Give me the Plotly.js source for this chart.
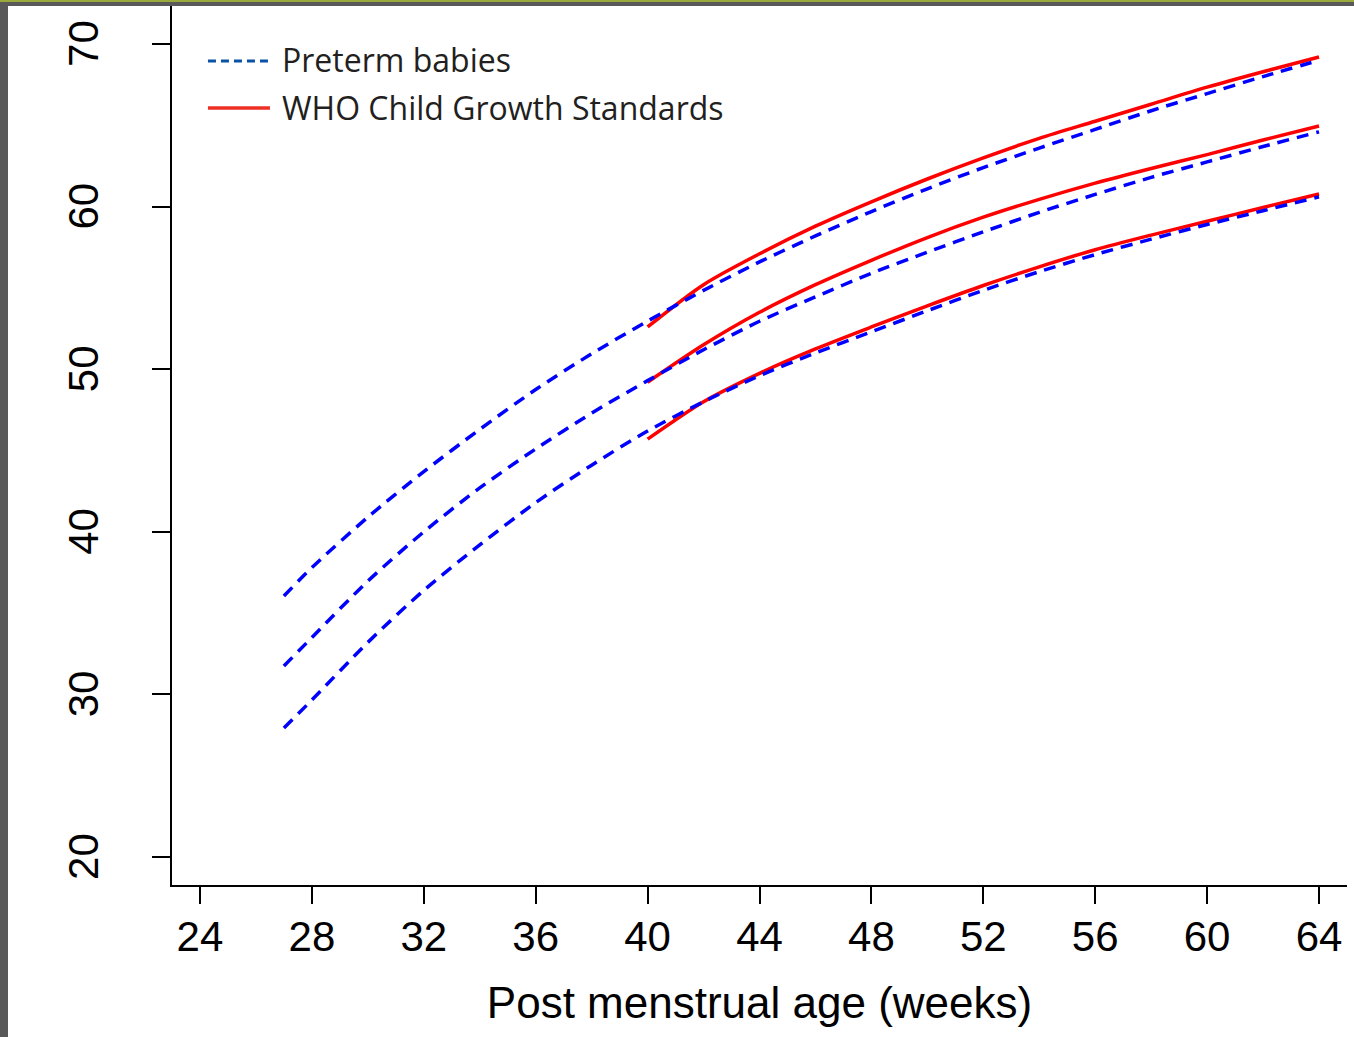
<!DOCTYPE html>
<html>
<head>
<meta charset="utf-8">
<script src="https://cdn.plot.ly/plotly-3.0.1.min.js"></script>
<style>
  html, body { margin: 0; padding: 0; background: #ffffff; }
  #wrap { position: relative; width: 1354px; height: 1037px; overflow: hidden; }
  #chart { position: absolute; left: 0; top: 0; width: 1354px; height: 1037px; }
  .bar-left { position: absolute; left: 0; top: 0; width: 8px; height: 1037px; background: #595959; }
  .bar-top-gray { position: absolute; left: 0; top: 0; width: 1354px; height: 6px; background: #595959; }
  .bar-top-olive { position: absolute; left: 0; top: 0; width: 1354px; height: 2px; background: #9aaa3a; }
</style>
</head>
<body>
<div id="wrap">
  <div id="chart"></div>
  <div class="bar-left"></div>
  <div class="bar-top-gray"></div>
  <div class="bar-top-olive"></div>
</div>
<script>
// Post menstrual age (weeks)
const pretermWeeks = [27, 28, 30, 32, 34, 36, 38, 40, 42, 44, 46, 48, 50, 52, 54, 56, 58, 60, 62, 64];
const pretermUpper = [36.05, 37.8, 40.9, 43.7, 46.3, 48.75, 50.95, 52.96, 54.85, 56.6, 58.2, 59.7, 61.1, 62.4, 63.6, 64.75, 65.9, 66.95, 68.0, 69.0];
const pretermMiddle = [31.75, 33.5, 36.97, 40.0, 42.7, 45.1, 47.3, 49.3, 51.2, 52.95, 54.45, 55.9, 57.2, 58.45, 59.65, 60.75, 61.8, 62.75, 63.7, 64.6];
const pretermLower = [27.93, 29.66, 33.2, 36.4, 39.2, 41.8, 44.1, 46.2, 48.0, 49.6, 51.0, 52.3, 53.6, 54.85, 56.0, 57.05, 58.0, 58.9, 59.75, 60.6];

const whoWeeks = [40, 42, 44, 46, 48, 50, 52, 54, 56, 58, 60, 62, 64];
const whoUpper = [52.6, 55.2, 57.1, 58.8, 60.3, 61.7, 63.0, 64.2, 65.25, 66.3, 67.35, 68.3, 69.2];
const whoMiddle = [49.2, 51.5, 53.5, 55.2, 56.7, 58.1, 59.35, 60.45, 61.45, 62.35, 63.2, 64.1, 64.96];
const whoLower = [45.7, 48.0, 49.75, 51.25, 52.6, 53.9, 55.15, 56.3, 57.35, 58.25, 59.1, 59.95, 60.78];

const xTicks = [24, 28, 32, 36, 40, 44, 48, 52, 56, 60, 64];
const yTicks = [20, 30, 40, 50, 60, 70];

const legendLabels = ["Preterm babies", "WHO Child Growth Standards"];
const xTitle = "Post menstrual age (weeks)";

const redLine = { color: "#ff0000", width: 3.5, shape: "spline", smoothing: 0.8 };
const blueLine = { color: "#0000ff", width: 3.5, dash: "12px,8px", shape: "spline", smoothing: 0.8 };

const traces = [];
[whoUpper, whoMiddle, whoLower].forEach(ys => {
  traces.push({ x: whoWeeks, y: ys, type: "scatter", mode: "lines", line: redLine, showlegend: false, hoverinfo: "skip" });
});
[pretermUpper, pretermMiddle, pretermLower].forEach(ys => {
  traces.push({ x: pretermWeeks, y: ys, type: "scatter", mode: "lines", line: blueLine, showlegend: false, hoverinfo: "skip" });
});

const axisFont = { family: "Liberation Sans, Arial, sans-serif", size: 42, color: "#000000" };
const legendFont = { family: "Open Sans, Noto Sans, sans-serif", size: 32, color: "#231f20" };

const layout = {
  width: 1354,
  height: 1037,
  margin: { l: 172, r: 7, t: 6, b: 152 },
  paper_bgcolor: "#ffffff",
  plot_bgcolor: "#ffffff",
  showlegend: false,
  xaxis: {
    range: [23, 65],
    tickvals: xTicks,
    ticktext: xTicks.map(String),
    ticks: "outside",
    ticklen: 17,
    tickwidth: 2,
    tickcolor: "#000000",
    showline: true,
    linecolor: "#000000",
    linewidth: 2,
    showgrid: false,
    zeroline: false,
    tickfont: axisFont,
    ticklabelstandoff: -3,
    title: { text: xTitle, font: { family: "Liberation Sans, Arial, sans-serif", size: 44, color: "#000000" }, standoff: 28 }
  },
  yaxis: {
    range: [18.28, 72.34],
    tickvals: yTicks,
    ticktext: yTicks.map(v => String(v) + "\u00a0"),
    ticks: "outside",
    ticklen: 18,
    tickwidth: 2,
    tickcolor: "#000000",
    tickangle: -90,
    showline: true,
    linecolor: "#000000",
    linewidth: 2,
    showgrid: false,
    zeroline: false,
    tickfont: axisFont,
    ticklabelstandoff: 37
  },
  shapes: [
    { type: "line", xref: "paper", yref: "paper", x0: 0.0306, x1: 0.0834, y0: 0.9374, y1: 0.9374,
      line: { color: "#0a52a6", width: 3, dash: "8px,5px" } },
    { type: "line", xref: "paper", yref: "paper", x0: 0.0306, x1: 0.0834, y0: 0.8840, y1: 0.8840,
      line: { color: "#ee3124", width: 3.5 } }
  ],
  annotations: [
    { xref: "paper", yref: "paper", x: 0.0915, y: 0.9395, xanchor: "left", yanchor: "middle",
      text: legendLabels[0], showarrow: false, font: legendFont },
    { xref: "paper", yref: "paper", x: 0.0915, y: 0.8850, xanchor: "left", yanchor: "middle",
      text: legendLabels[1], showarrow: false, font: legendFont }
  ]
};

Plotly.newPlot("chart", traces, layout, { staticPlot: true, displayModeBar: false });
</script>
</body>
</html>
